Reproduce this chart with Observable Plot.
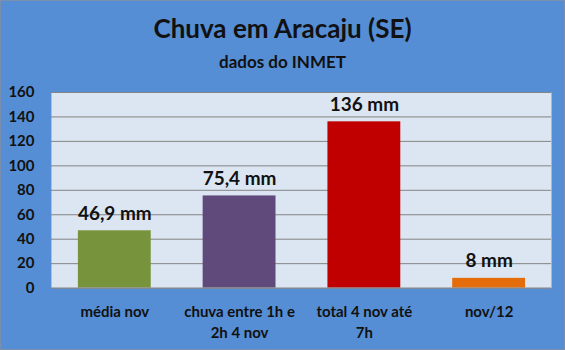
<!DOCTYPE html>
<html>
<head>
<meta charset="utf-8">
<script src="https://cdn.jsdelivr.net/npm/d3@7"></script>
<script src="https://cdn.jsdelivr.net/npm/@observablehq/plot@0.6"></script>
<style>
  html, body { margin: 0; padding: 0; background: #fff; }
  #chart {
    position: relative; width: 565px; height: 350px; box-sizing: border-box;
    background: #558ed5; border: 1px solid #7a8fae; overflow: hidden;
    font-family: Lato, "Open Sans", sans-serif; color: #111;
  }
  #title { position: absolute; left: 0; right: 0; top: 12px; text-align: center; font-weight: bold; font-size: 26px; line-height: 30px; }
  #subtitle { position: absolute; left: 0; right: 0; top: 50px; text-align: center; font-weight: bold; font-size: 17px; line-height: 22px; }
  #plot { position: absolute; left: -1px; top: 79px; }
</style>
</head>
<body>
<div id="chart">
  <div id="title">Chuva em Aracaju (SE)</div>
  <div id="subtitle">dados do INMET</div>
  <div id="plot"></div>
</div>
<script>
const categories = ["média nov", "chuva entre 1h e\n2h 4 nov", "total 4 nov até\n7h", "nov/12"];
const values = [46.9, 75.4, 136, 8];
const colors = ["#77933c", "#604a7b", "#c00000", "#e46c0a"];
const yTicks = [0, 20, 40, 60, 80, 100, 120, 140, 160];

const data = categories.map((c, i) => ({cat: c, value: values[i], color: colors[i]}));
const fmt = v => String(v).replace(".", ",") + " mm";

const chart = Plot.plot({
  width: 565,
  height: 270,
  marginTop: 12,
  marginBottom: 62,
  marginLeft: 51,
  marginRight: 13,
  style: {background: "transparent", fontFamily: "Lato, 'Open Sans', sans-serif", color: "#111", overflow: "visible"},
  x: {domain: categories, paddingInner: 0.416, paddingOuter: 0.208},
  y: {domain: [0, 160]},
  marks: [
    Plot.frame({fill: "#dce6f2", stroke: null}),
    Plot.ruleY(yTicks.filter(t => t > 0), {stroke: "#848484", strokeWidth: 1}),
    Plot.barY(data, {x: "cat", y: "value", fill: "color"}),
    Plot.ruleY([0], {stroke: "#848484", strokeWidth: 1.5}),
    Plot.text(data, {x: "cat", y: "value", text: d => fmt(d.value), dy: -17, fontSize: 19, fontWeight: "bold", fill: "#111"}),
    Plot.axisY({ticks: yTicks, tickSize: 0, tickPadding: 17, fontSize: 15, fontWeight: "bold", label: null, fill: "#111"}),
    Plot.axisX({tickSize: 0, tickPadding: 14, fontSize: 15, fontWeight: "bold", lineHeight: 1.4, label: null, fill: "#111"})
  ]
});
document.getElementById("plot").appendChild(chart);
</script>
</body>
</html>
